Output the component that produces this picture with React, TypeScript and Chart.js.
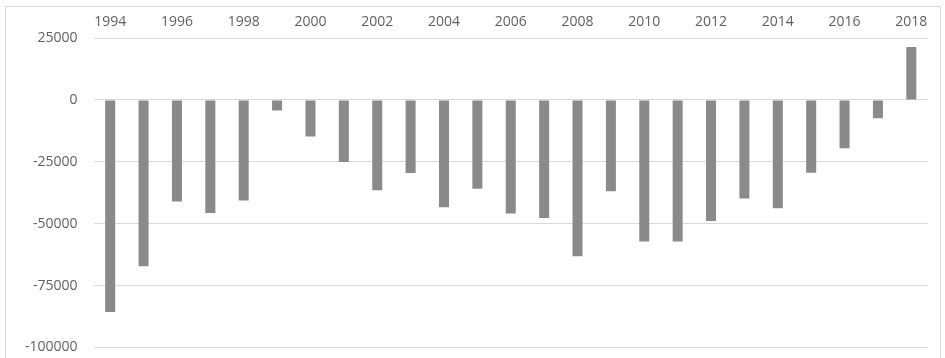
import React, { useEffect, useRef } from "react";
import { Chart, registerables } from "chart.js";

Chart.register(...registerables);

const years: string[] = [
  "1994", "1995", "1996", "1997", "1998", "1999", "2000", "2001", "2002",
  "2003", "2004", "2005", "2006", "2007", "2008", "2009", "2010", "2011",
  "2012", "2013", "2014", "2015", "2016", "2017", "2018",
];

const balance: number[] = [
  -85700, -67200, -41000, -45700, -40600, -4300, -14800, -25100, -36500,
  -29500, -43400, -35900, -45900, -47700, -63100, -36900, -57200, -57200,
  -48900, -39800, -43800, -29400, -19500, -7400, 21400,
];

const yMin = -100000;
const yMax = 25000;
const yStep = 25000;

const W = 945;
const H = 358;

// light frame around the whole chart
const framePlugin = {
  id: "frame",
  beforeDraw(chart: Chart) {
    const ctx = chart.ctx;
    ctx.save();
    ctx.fillStyle = "#ffffff";
    ctx.fillRect(0, 0, W, H);
    ctx.strokeStyle = "#d9d9d9";
    ctx.lineWidth = 1;
    ctx.strokeRect(5.5, 6.5, 935, 352);
    ctx.restore();
  },
};

export default function App() {
  const ref = useRef<HTMLCanvasElement | null>(null);

  useEffect(() => {
    document.body.style.margin = "0";
    if (!ref.current) return;
    const chart = new Chart(ref.current, {
      type: "bar",
      data: {
        labels: years,
        datasets: [
          {
            data: balance,
            backgroundColor: "#8a8a8a",
            barPercentage: 0.6,
            categoryPercentage: 0.5,
          },
        ],
      },
      options: {
        responsive: false,
        animation: false,
        devicePixelRatio: 1,
        layout: { padding: { left: 0, right: 17, top: 0, bottom: 10.5 } },
        plugins: {
          legend: { display: false },
          tooltip: { enabled: false },
        },
        scales: {
          x: {
            position: "top",
            grid: { display: false, drawTicks: false },
            border: { display: false },
            ticks: {
              autoSkip: false,
              maxRotation: 0,
              padding: 8,
              color: "#5f5f5f",
              font: { family: "Open Sans", size: 14 },
              callback: (_v: any, i: number) => (i % 2 === 0 ? years[i] : ""),
            },
            afterFit: (s: any) => {
              s.height = 38;
              s.paddingLeft = 0;
              s.paddingRight = 0;
            },
          },
          y: {
            min: yMin,
            max: yMax,
            grid: { color: "#d9d9d9", drawTicks: false },
            border: { display: false },
            ticks: {
              stepSize: yStep,
              padding: 16,
              color: "#5f5f5f",
              font: { family: "Open Sans", size: 14 },
              callback: (v: any) => String(v),
            },
            afterFit: (s: any) => {
              s.width = 93.5;
              s.paddingTop = 0;
              s.paddingBottom = 0;
            },
          },
        },
      },
      plugins: [framePlugin],
    });
    return () => chart.destroy();
  }, []);

  return (
    <div style={{ width: W, height: H }}>
      <canvas ref={ref} width={W} height={H} style={{ display: "block" }} />
    </div>
  );
}
